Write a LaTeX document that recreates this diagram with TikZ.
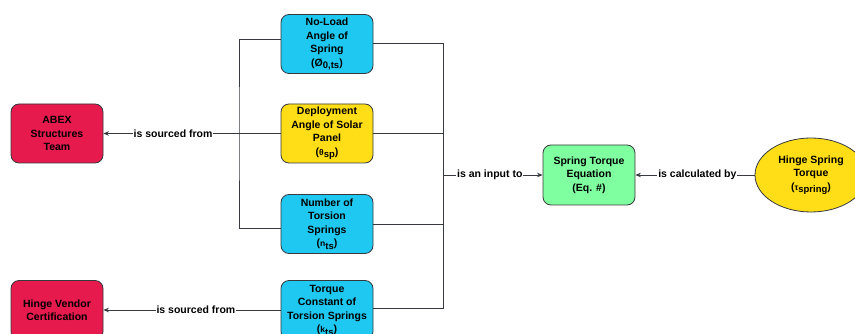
\documentclass[tikz,border=0pt]{standalone}
\usepackage{fontspec}
\setmainfont{Liberation Sans}
\usetikzlibrary{arrows.meta,shapes.geometric}
\definecolor{cblue}{RGB}{30,200,240}
\definecolor{cyell}{RGB}{255,222,23}
\definecolor{cred}{RGB}{230,26,76}
\definecolor{cgreen}{RGB}{128,255,160}
\definecolor{cedge}{RGB}{54,57,61}
\newcommand{\sml}[2]{{\fontsize{8.5}{10}\selectfont #1}\raisebox{-0.45ex}{\fontsize{9.5}{10}\selectfont #2}}
\tikzset{
  box/.style={draw=cedge, line width=0.8pt, rounded corners=8pt, minimum width=92pt, minimum height=59pt,
     align=center, font=\fontsize{10.5}{13.5}\selectfont\bfseries, inner sep=2pt},
  bluebox/.style={box, fill=cblue},
  yellbox/.style={box, fill=cyell},
  redbox/.style={box, fill=cred},
  greenbox/.style={box, fill=cgreen, minimum height=60pt},
  oval/.style={draw=cedge, line width=0.8pt, ellipse, fill=cyell, minimum width=112pt, minimum height=74pt,
     inner sep=0pt, align=center, font=\fontsize{10.5}{13.5}\selectfont\bfseries},
  conn/.style={draw=cedge, line width=0.8pt},
  arr/.style={conn, -{Stealth[length=5.5pt,width=4.5pt]}},
  elab/.style={fill=white, inner sep=1pt, font=\fontsize{10.5}{12}\selectfont\bfseries}
}
\begin{document}
\begin{tikzpicture}[x=1pt,y=-1pt]
\useasboundingbox (0,0) rectangle (855,334);
\clip (0,0) rectangle (855,334);
\node[bluebox] (b1) at (327,44) {No-Load\\Angle of\\Spring\\(Ø\raisebox{-0.4ex}{\fontsize{9.5}{10}\selectfont 0,ts})};
\node[yellbox] (b2) at (327,133.5) {Deployment\\Angle of Solar\\Panel\\(\sml{θ}{sp})};
\node[bluebox] (b3) at (327,224) {Number of\\Torsion\\Springs\\(\sml{n}{ts})};
\node[bluebox] (b4) at (327,310) {Torque\\Constant of\\Torsion Springs\\(\sml{k}{ts})};
\node[redbox] (abex) at (57,133.5) {ABEX\\Structures\\Team};
\node[redbox] (hv) at (57,310) {Hinge Vendor\\Certification};
\node[greenbox] (eq) at (589,175) {Spring Torque\\Equation\\(Eq. \#)};
\node[oval] (ht) at (811,175) {Hinge Spring\\Torque\\(\sml{τ}{spring})};
\coordinate (jl) at (239,133.5);
\coordinate (jr) at (443,175);
% left bus
\draw[conn] ([yshift=5pt]b1.west) -| (jl) |- ([yshift=-4pt]b3.west);
\draw[arr] (b2.west) -- node[elab, pos=0.607] {is sourced from} (abex.east);
\draw[arr] (b4.west) -- node[elab, pos=0.478] {is sourced from} (hv.east);
% right bus
\draw[conn] ([yshift=1pt]b1.east) -| (jr);
\draw[conn] (b2.east) -| (jr);
\draw[conn] (b3.east) -| (jr);
\draw[conn] ([yshift=2pt]b4.east) -| (jr);
\draw[arr] (jr) -- node[elab, pos=0.47] {is an input to} (eq.west);
\draw[arr] (ht.west) -- node[elab, pos=0.48] {is calculated by} (eq.east);
\end{tikzpicture}
\end{document}
